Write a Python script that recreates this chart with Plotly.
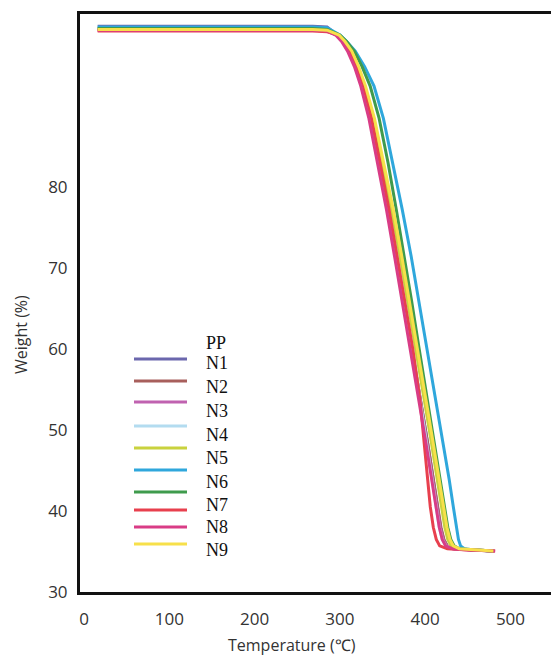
import plotly.graph_objects as go

# ---------------- data ----------------
series_names = ["PP", "N1", "N2", "N3", "N4", "N5", "N6", "N7", "N8", "N9"]
series_colors = ["#6b67ad", "#a85f5c", "#c062b0", "#b3dcf0", "#c9d23e",
                 "#2fa7dc", "#3f9b4d", "#e8404e", "#d93c86", "#f7e04a"]

# plateau part (temperature, °C)
plateau_temp = [16, 200, 268, 285]
plateau_wt = {"PP": 99.9, "N1": 99.5, "N2": 99.4, "N3": 99.7, "N4": 99.6,
              "N5": 99.8, "N6": 99.6, "N7": 99.3, "N8": 99.4, "N9": 99.5}

# weight levels (%) of the decomposition step
wt_levels = [98.8, 98.0, 96.8, 94.9, 92.5, 88.5, 83.0, 77.3, 71.5, 66.0, 60.0,
             53.7, 48.3, 44.0, 40.5, 38.0, 36.5, 35.7, 35.35, 35.2, 35.05]

# temperature (°C) at which each sample reaches those weight levels
temp_PP = [297, 304, 311, 319, 326.5, 336, 346.5, 356.5, 366, 375, 384.5, 394.5, 403, 409, 414, 418, 421.5, 425.5, 434, 453, 480]
temp_N1 = [297, 304, 311, 319, 326.5, 336, 346.5, 356.5, 366, 375, 384.5, 394.5, 403, 409.5, 414.5, 418.5, 422, 426, 434, 452, 480]
temp_N2 = [296, 303, 310, 318, 325.5, 335, 345.5, 355.5, 365, 374, 383.5, 393.5, 402, 408.5, 413.5, 417.5, 421, 425, 433, 452, 481]
temp_N3 = [298, 305, 312, 320, 327.5, 337, 347.5, 357.5, 367, 376, 385, 394, 401.5, 407.5, 412.5, 416.5, 420, 424, 433, 452, 480]
temp_N4 = [298, 305, 313, 321, 329, 339, 350, 360.5, 370.5, 379.5, 389, 399, 407.5, 414, 419, 423, 426.5, 430.5, 438, 455, 480]
temp_N5 = [300, 308, 318, 329, 340, 351, 362, 373, 383.5, 392.5, 402, 412, 421, 428, 433, 436.5, 439, 441.5, 446, 458, 480]
temp_N6 = [300, 308, 317, 326, 335.5, 346, 356.5, 366, 375.5, 384, 393, 402.5, 411, 417.5, 422.5, 426.5, 430, 434, 440, 455, 480]
temp_N7 = [298, 305, 312, 320, 327.5, 337, 347.5, 357.5, 367, 376, 385.5, 394, 399, 402.5, 406, 409.5, 413, 417, 426, 450, 482]
temp_N8 = [295, 302, 309, 317, 324.5, 334, 344.5, 354.5, 364, 373, 382.5, 392.5, 401, 407.5, 412.5, 416.5, 420, 424, 432, 450, 482]
temp_N9 = [299, 306, 314, 322, 330, 340.5, 351.5, 362.5, 372.5, 381.5, 391, 401, 409.5, 416.5, 421.5, 425.5, 429, 433, 440, 456, 480]

temps = {"PP": temp_PP, "N1": temp_N1, "N2": temp_N2, "N3": temp_N3, "N4": temp_N4,
         "N5": temp_N5, "N6": temp_N6, "N7": temp_N7, "N8": temp_N8, "N9": temp_N9}

x_ticks = [0, 100, 200, 300, 400, 500]
y_ticks = [30, 40, 50, 60, 70, 80]

# ---------------- figure ----------------
W, H = 551, 656
ML, MR, MT, MB = 80, 0, 14, 64
PW, PH = W - ML - MR, H - MT - MB

fig = go.Figure()
for name, col in zip(series_names, series_colors):
    p = plateau_wt[name]
    x = plateau_temp + temps[name]
    y = [p, p, p, p - 0.1] + wt_levels
    fig.add_trace(go.Scatter(x=x, y=y, mode="lines", name=name,
                             line=dict(color=col, width=3, shape="linear"),
                             showlegend=False))

def px_x(px):
    return (px - ML) / PW

def px_y(py):
    return (H - MB - py) / PH

# custom legend: line samples and labels (offset as in the original)
legend_line_y = [359, 381, 402, 426, 448, 470, 492, 510, 527, 544]
legend_text_y = [343, 363, 387, 411, 435, 458, 482, 505, 527, 550]
shapes = []
annotations = []
for i, (name, col) in enumerate(zip(series_names, series_colors)):
    shapes.append(dict(type="line", xref="paper", yref="paper",
                       x0=px_x(134), x1=px_x(187),
                       y0=px_y(legend_line_y[i]), y1=px_y(legend_line_y[i]),
                       line=dict(color=col, width=3)))
    annotations.append(dict(text=name, xref="paper", yref="paper",
                            x=px_x(204), y=px_y(legend_text_y[i]),
                            xanchor="left", yanchor="middle", showarrow=False,
                            font=dict(family="Liberation Serif", size=18, color="#111")))

# axis titles
annotations.append(dict(text="Temperature (℃)", xref="paper", yref="paper",
                        x=px_x(292), y=px_y(645), xanchor="center", yanchor="middle",
                        showarrow=False,
                        font=dict(family="Open Sans", size=16, color="#333")))
annotations.append(dict(text="Weight (%)", xref="paper", yref="paper",
                        x=px_x(21), y=px_y(335), xanchor="center", yanchor="middle",
                        textangle=-90, showarrow=False,
                        font=dict(family="Open Sans", size=16, color="#333")))

fig.update_layout(
    width=W, height=H,
    margin=dict(l=ML, r=MR, t=MT, b=MB, pad=0),
    paper_bgcolor="white", plot_bgcolor="white",
    shapes=shapes, annotations=annotations,
    xaxis=dict(range=[-4.7, 547.5], tickvals=x_ticks, showgrid=False, zeroline=False,
               showline=True, linecolor="#111", linewidth=3, mirror=True,
               ticks="outside", ticklen=10, tickcolor="rgba(0,0,0,0)",
               tickfont=dict(family="Open Sans", size=17, color="#333")),
    yaxis=dict(range=[30, 101.4], tickvals=y_ticks, showgrid=False, zeroline=False,
               showline=True, linecolor="#111", linewidth=3, mirror=False,
               ticks="outside", ticklen=6, tickcolor="rgba(0,0,0,0)",
               tickfont=dict(family="Open Sans", size=17, color="#333")),
)

fig.write_html("out.html")
